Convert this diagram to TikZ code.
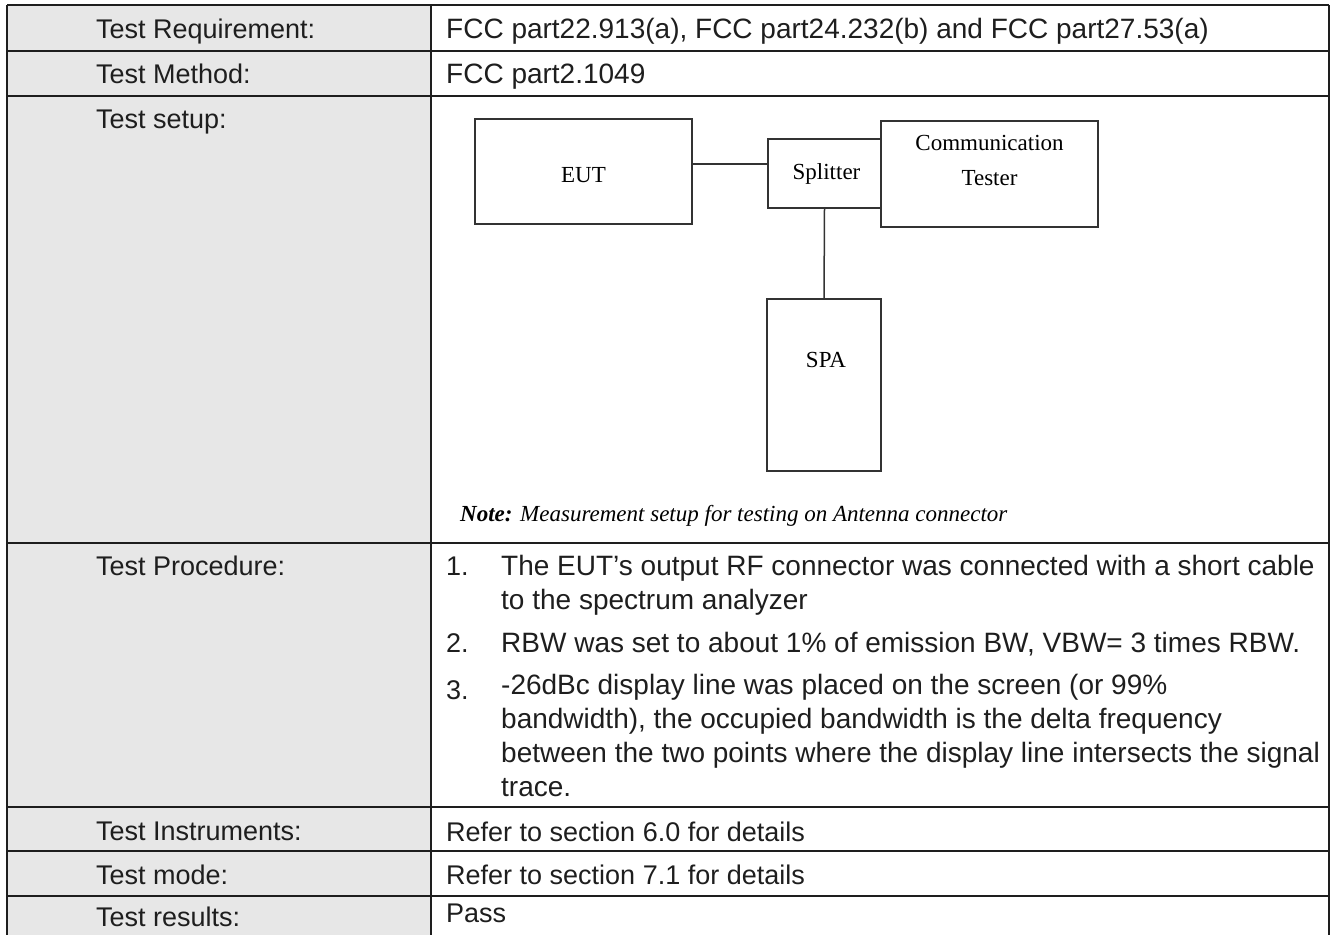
\documentclass[tikz,border=0pt]{standalone}
\usepackage{fontspec}
\setmainfont{Liberation Sans}
\newfontfamily\serifdiag{Liberation Serif}
\usetikzlibrary{positioning}
\definecolor{cellgray}{RGB}{231,231,231}
\definecolor{inkgray}{RGB}{30,30,30}
\tikzset{
  tbl/.style={line width=2pt, draw=inkgray},
  lbl/.style={anchor=base west, inner sep=0pt, font=\fontsize{27}{34}\selectfont, text=inkgray},
  big/.style={font=\fontsize{28}{33.7}\selectfont},
  unit/.style={draw=black!80, line width=1.5pt, inner sep=0pt, outer sep=0pt},
  utext/.style={font=\serifdiag\fontsize{23}{35}\selectfont, align=center, inner sep=0pt}
}
\begin{document}
\begin{tikzpicture}[x=1pt,y=-1pt]
	\useasboundingbox (0,0) rectangle (1332,935);
	\fill[cellgray] (7,5) rectangle (431,935);
	\foreach \y in {5,51,96,543,807,851,896} \draw[tbl] (7,\y) -- (1329,\y);
	\foreach \x in {7,431,1329} \draw[tbl] (\x,5) -- (\x,935);
	% left column
	\node[lbl] (kreq) at (96,38.5) {Test Requirement:};
	\node[lbl] (kmeth) at (96,83) {Test Method:};
	\node[lbl] (ksetup) at (96,128) {Test setup:};
	\node[lbl] (kproc) at (96,575) {Test Procedure:};
	\node[lbl] (kinst) at (96,840) {Test Instruments:};
	\node[lbl] (kmode) at (96,884) {Test mode:};
	\node[lbl] (kres) at (96,926) {Test results:};
	% right column
	\node[lbl, big] (vreq) at (446,38.5) {FCC part22.913(a), FCC part24.232(b) and FCC part27.53(a)};
	\node[lbl, big] (vmeth) at (446,83) {FCC part2.1049};
	\node[lbl] (n1) at (446,575) {1.};
	\node[lbl, big, align=left] (p1) at (501,609) {The EUT’s output RF connector was connected with a short cable\\to the spectrum analyzer};
	\node[lbl] (n2) at (446,652) {2.};
	\node[lbl, big] (p2) at (501,652) {RBW was set to about 1\% of emission BW, VBW= 3 times RBW.};
	\node[lbl] (n3) at (446,699) {3.};
	\node[lbl, big, align=left] (p3) at (501,796) {-26dBc display line was placed on the screen (or 99\%\\bandwidth), the occupied bandwidth is the delta frequency\\between the two points where the display line intersects the signal\\trace.};
	\node[lbl] (vinst) at (446,841) {Refer to section 6.0 for details};
	\node[lbl] (vmode) at (446,884) {Refer to section 7.1 for details};
	\node[lbl] (vres) at (446,922) {Pass};
	% setup sketch
	\node[unit, minimum width=217, minimum height=105] (eut) at (583.5,171.5) {};
	\node[utext] (eutlabel) at ([yshift=-4pt]eut.center) {EUT};
	\node[unit, minimum width=113, minimum height=69] (splitter) at (824.5,173.5) {};
	\node[utext] (splitlabel) at ([xshift=2pt]splitter.center) {Splitter};
	\node[unit, minimum width=217, minimum height=106] (tester) at (989.5,174) {};
	\node[utext] (testlabel) at ([yshift=14pt]tester.center) {Communication\\Tester};
	\node[unit, minimum width=114, minimum height=172] (spa) at (824,385) {};
	\node[utext] (spalabel) at ([yshift=25pt, xshift=2pt]spa.center) {SPA};
	\coordinate (eutport) at ([yshift=7.5pt]eut.east);
	\draw[black!80, line width=1.5pt] (eutport) -- (eutport -| splitter.west);
	\draw[black!80, line width=1.5pt] (splitter.south) -- (spa.north);
	\node[anchor=base west, inner sep=0pt, font=\serifdiag\itshape\fontsize{23}{27}\selectfont] (note) at (460,521) {\textbf{Note:} Measurement setup for testing on Antenna connector};
\end{tikzpicture}
\end{document}
